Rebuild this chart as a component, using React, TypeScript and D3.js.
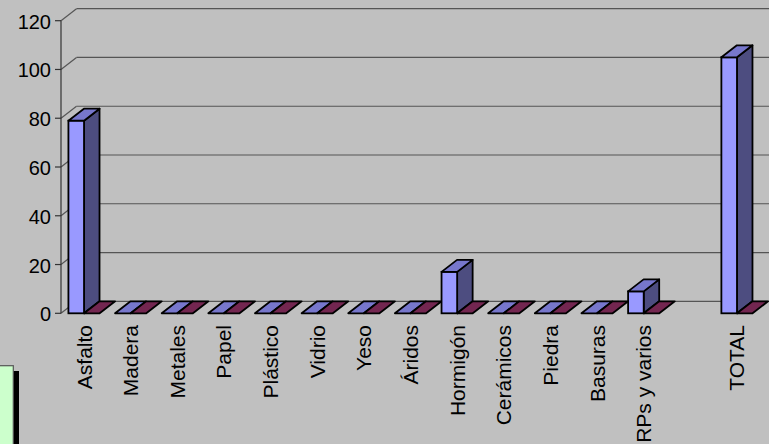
import React from "react";
import * as d3 from "d3";

// Categories along the floor (one empty slot separates the total)
const categories = [
  "Asfalto", "Madera", "Metales", "Papel", "Plástico", "Vidrio", "Yeso",
  "Áridos", "Hormigón", "Cerámicos", "Piedra", "Basuras", "RPs y varios", "", "TOTAL",
];
// First series (blue columns)
const serieA: (number | null)[] = [79, 0, 0, 0, 0, 0, 0, 0, 17, 0, 0, 0, 9, null, 105];
// Second series (maroon, all zero)
const serieB: (number | null)[] = [0, 0, 0, 0, 0, 0, 0, 0, 0, 0, 0, 0, 0, null, 0];
const yTicks = [0, 20, 40, 60, 80, 100, 120];

const W = 769;
const H = 444;
const DX = 15.5; // depth offset of the 3D box
const DY = -12;

const FONT = "'Liberation Sans', Arial, Helvetica, sans-serif";

const palettes = [
  { front: "#9999ff", side: "#4d4d80", top: "#7777cc" },
  { front: "#993366", side: "#4d1a33", top: "#732650" },
];

export default function App() {
  const y = d3.scaleLinear().domain([0, 120]).range([313.3, 20.7]);
  const x = d3.scaleBand<string>().domain(categories).range([60.7, 60.7 + 15 * 46.64]).padding(0);
  const bw = x.bandwidth();
  const inner = d3.scaleBand<string>().domain(["a", "b"]).range([0, 31.2]).padding(0);
  const axisX = 61;
  const y0 = y(0);

  const box = (x0: number, w: number, v: number, pal: typeof palettes[0], key: string) => {
    const yt = y(v);
    const x1 = x0 + w;
    const topFace = `M${x0},${yt} L${x0 + DX},${yt + DY} L${x1 + DX},${yt + DY} L${x1},${yt} Z`;
    if (v === 0) {
      return (
        <path key={key} d={topFace} fill={pal.top} stroke="#000" strokeWidth={1.8} strokeLinejoin="round" />
      );
    }
    const side = `M${x1},${yt} L${x1 + DX},${yt + DY} L${x1 + DX},${y0 + DY} L${x1},${y0} Z`;
    return (
      <g key={key}>
        <path d={side} fill={pal.side} stroke="#000" strokeWidth={1.8} strokeLinejoin="round" />
        <rect x={x0} y={yt} width={w} height={y0 - yt} fill={pal.front} stroke="#000" strokeWidth={1.8} />
        <path d={topFace} fill={pal.top} stroke="#000" strokeWidth={1.8} strokeLinejoin="round" />
      </g>
    );
  };

  return (
    <svg
      width={W}
      height={H}
      style={{ position: "absolute", left: 0, top: 0, display: "block", background: "#c0c0c0" }}
      fontFamily={FONT}
    >
      <rect x={0} y={0} width={W} height={H} fill="#c0c0c0" />

      {/* back-wall gridlines and side-wall slants */}
      {yTicks.map((t) => (
        <g key={`g${t}`} stroke="#555" strokeWidth={1.2} fill="none">
          <line x1={axisX + DX} x2={W + 5} y1={y(t) + DY} y2={y(t) + DY} />
          <line x1={axisX} x2={axisX + DX} y1={y(t)} y2={y(t) + DY} />
          <line x1={axisX - 6} x2={axisX} y1={y(t)} y2={y(t)} stroke="#333" />
        </g>
      ))}
      <line x1={axisX} x2={axisX} y1={y(120)} y2={y(0)} stroke="#333" strokeWidth={1.2} />

      {/* tick labels */}
      {yTicks.map((t) => (
        <text key={`t${t}`} x={51} y={y(t) + 1} textAnchor="end" dominantBaseline="central" fontSize={20} fill="#000">
          {t}
        </text>
      ))}

      {/* columns */}
      {categories.map((c, i) => {
        const cx = (x(c) as number) + bw / 2 - 15.6;
        const out: React.ReactNode[] = [];
        const a = serieA[i];
        const b = serieB[i];
        if (a !== null) out.push(box(cx + (inner("a") as number), inner.bandwidth(), a, palettes[0], `a${i}`));
        if (b !== null) out.push(box(cx + (inner("b") as number), inner.bandwidth(), b, palettes[1], `b${i}`));
        return <g key={`c${i}`}>{out}</g>;
      })}

      {/* category labels */}
      {categories.map((c, i) =>
        c ? (
          <text
            key={`l${i}`}
            transform={`translate(${(x(c) as number) + bw / 2},325) rotate(-90)`}
            textAnchor="end"
            dominantBaseline="central"
            fontSize={21}
            fill="#000"
          >
            {c}
          </text>
        ) : null
      )}

      {/* legend box, partly outside the frame */}
      <rect x={5} y={371} width={14} height={90} fill="#000" />
      <rect x={-10} y={365.7} width={23.3} height={90} fill="#ccffcc" stroke="#555" strokeWidth={1.2} />
    </svg>
  );
}
